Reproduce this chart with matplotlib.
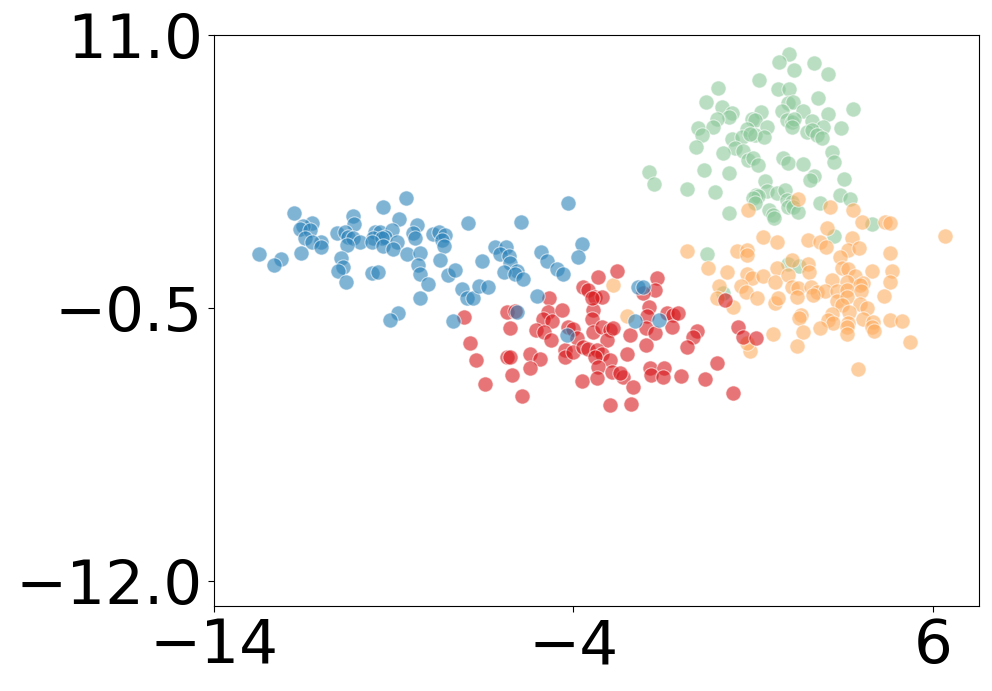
import matplotlib
matplotlib.use("Agg")
from matplotlib import pyplot as plt

# cluster 0 (blue)
blue_x = [-8.65, -9.31, -11.78, -10.13, -8.85, -10.10, -11.27, -11.52, -11.61, -11.33,
          -8.36, -10.59, -10.36, -9.52, -9.38, -9.06, -8.46, -11.47, -10.26, -10.13,
          -9.57, -9.24, -9.34, -11.02, -11.28, -9.94, -8.92, -9.61, -10.31, -11.02,
          -9.29, -9.01, -8.41, -12.74, -11.58, -12.14, -12.32, -8.64, -10.48, -8.27,
          -10.40, -10.54, -9.60, -9.45, -8.32, -8.27, -10.34, -8.27, -8.87, -9.10,
          -4.16, -6.94, -5.47, -7.90, -7.73, -7.57, -7.67, -7.60, -7.71, -8.04,
          -7.48, -7.30, -6.55, -6.18, -5.89, -6.04, -5.79, -5.77, -5.58, -5.93,
          -5.63, -5.40, -4.90, -4.75, -4.47, -4.28, -3.77, -3.87, -7.11, -6.95,
          -6.79, -6.62, -6.39, -5.01, -7.36, -5.56, -4.19, -2.20, -2.08, -2.29,
          -1.61]
blue_y = [4.14, 3.77, 3.49, 3.39, 3.25, 3.02, 3.09, 2.97, 2.81, 2.78,
          2.99, 2.67, 2.71, 2.71, 2.71, 2.78, 2.65, 2.43, 2.50, 2.43,
          2.43, 2.50, 2.43, 2.29, 2.29, 2.29, 2.29, 2.27, 2.15, 2.08,
          2.12, 1.98, 2.43, 1.77, 1.84, 1.55, 1.32, 1.76, 1.62, 1.80,
          1.24, 1.06, 0.99, 1.00, 1.31, 0.92, 0.58, -0.09, -0.70, -1.01,
          3.93, 3.07, 3.12, 2.60, 2.71, 2.57, 2.36, 2.12, 1.52, 0.50,
          0.89, 1.10, 1.49, 2.06, 2.08, 1.76, 1.69, 1.38, 1.06, 1.03,
          0.92, 0.71, 1.87, 1.49, 1.14, 0.93, 2.19, 1.63, 0.29, -0.09,
          -0.09, 0.43, 0.37, 0.02, -1.04, -0.68, -1.64, 0.40, 0.40, -1.05,
          -1.01]

# cluster 1 (red)
red_x = [-7.04, -5.86, -5.63, -5.77, -4.67, -4.70, -4.84, -4.61, -4.33, -5.04,
         -4.82, -3.73, -3.59, -3.31, -3.40, -3.45, -3.49, -3.45, -4.14, -4.01,
         -3.22, -3.49, -4.63, -3.91, -3.22, -2.98, -3.08, -4.24, -4.24, -4.01,
         -3.73, -3.59, -3.35, -3.22, -3.40, -2.98, -3.31, -2.94, -3.77, -3.35,
         -2.98, -6.88, -6.72, -5.86, -5.77, -5.21, -4.93, -5.21, -5.70, -6.46,
         -5.42, -2.78, -1.69, -1.73, -2.06, -1.89, -1.95, -1.39, -1.22, -1.08,
         -1.27, -1.98, -1.73, -2.89, -2.43, -0.56, -0.68, -0.85, -1.98, -2.52,
         0.58, 0.71, 1.08, -0.02, -1.87, -1.48, -1.85, -1.52, -1.02, -0.34,
         -2.61, -2.71, -2.34, 0.43, -2.41, 0.21]
red_y = [-0.89, -0.66, -0.63, -1.36, -0.09, -0.66, -0.94, -1.05, -0.59, -1.43,
         -1.50, 0.40, 0.26, 0.82, -0.03, -0.59, -0.94, -1.50, -1.29, -1.39,
         -0.05, -0.09, -1.85, -1.78, -1.29, -1.43, -1.85, -2.27, -2.55, -2.34,
         -2.16, -2.24, -2.27, -2.44, -2.55, -2.69, -2.97, -3.18, -3.56, -3.46,
         -4.59, -1.99, -2.69, -2.55, -2.55, -2.44, -2.66, -3.04, -3.32, -3.70,
         -4.21, 1.07, 0.78, 0.26, 0.14, -0.45, -0.84, -0.72, -0.80, -0.72,
         -1.31, -1.36, -1.54, -1.36, -1.64, -1.46, -1.74, -2.13, -2.06, -2.45,
         -1.29, -1.74, -1.75, -2.83, -3.04, -3.04, -3.32, -3.42, -3.35, -3.50,
         -3.39, -3.25, -3.84, -4.07, -4.54, -0.16]

# cluster 2 (orange)
orange_x = [-2.89, -2.52, -0.25, 0.28, 0.82, 0.96, 0.06, 0.65, 0.80, -0.02,
            0.45, 1.10, 0.91, 0.82, 0.86, 1.28, 1.65, -0.83, 0.56, 0.82,
            0.82, 1.28, 1.65, 1.61, 1.61, 1.56, 3.13, 3.78, 4.03, 4.66,
            4.80, 6.33, 3.04, 2.53, 2.86, 3.02, 3.76, 3.64, 3.95, 3.41,
            4.80, 2.07, 2.53, 2.55, 1.97, 3.46, 3.64, 4.29, 4.85, 3.83,
            3.20, 3.60, 4.06, 3.97, 4.80, 2.07, 2.25, 2.61, 2.76, 2.21,
            3.00, 3.32, 3.60, 4.00, 2.67, 1.70, 3.32, 3.60, 4.65, 3.97,
            4.16, 3.46, 3.66, 3.18, 3.09, 3.23, 2.33, 2.28, 4.06, 3.64,
            3.60, 4.34, 4.29, 4.37, 4.80, 5.13, 2.86, 2.39, 3.60, 5.36,
            2.21, 3.92, 2.25]
orange_y = [0.47, -0.84, 1.17, 1.00, 0.93, 0.75, 0.43, 0.43, 0.16, -0.09,
            -0.45, -0.09, -2.30, -1.96, 3.63, 2.48, 2.29, 1.91, 1.91, 1.94,
            1.73, 0.85, 1.17, 0.61, -0.30, -1.60, 3.77, 3.63, 3.11, 3.11,
            3.07, 2.54, 2.88, 2.36, 2.27, 2.08, 2.43, 1.94, 2.01, 1.63,
            1.84, 1.52, 1.34, 1.03, 0.89, 1.17, 1.14, 1.07, 1.07, 0.86,
            0.68, 0.58, 0.54, 0.47, 0.61, 0.40, 0.33, 0.40, 0.19, -0.03,
            0.21, 0.21, 0.26, 0.21, 0.05, -0.09, -0.21, -0.03, 0.02, -0.33,
            -0.49, -0.37, -0.66, -0.77, -1.01, -1.15, -0.80, -0.91, -0.96, -1.15,
            -1.29, -1.08, -1.29, -1.47, -1.01, -1.05, -1.36, -1.50, -1.61, -1.92,
            -2.09, -3.07, 4.08]

# cluster 3 (green)
green_x = [2.00, 1.72, 2.70, 2.14, 3.07, 1.15, 0.01, 1.70, 2.00, 2.79,
           -0.32, 0.12, 1.97, 2.11, 3.78, 0.40, 0.33, 1.22, 1.79, 2.39,
           3.07, -0.02, 0.97, 1.05, 1.93, 2.07, 2.14, 2.63, -0.53, -0.11,
           1.37, 0.82, 2.07, 2.95, 3.44, -0.43, 2.49, 2.63, 2.76, 0.40,
           0.68, 1.05, 1.31, 2.90, -0.59, 0.49, 0.15, 0.72, 0.86, 1.00,
           1.12, 1.82, 1.96, 2.39, 3.18, 3.25, -1.90, -1.75, -0.36, 0.33,
           -0.83, -0.06, 1.33, 2.70, 2.58, 3.53, 1.37, 1.65, 1.88, 1.07,
           1.14, 1.00, 1.93, 2.07, 1.97, 2.11, 2.25, 1.05, 0.33, 1.45,
           1.56, 1.59, 2.86, 3.41, 3.69, -0.29, 3.25, 4.29, 1.96, 2.27,
           0.17, 0.91]
green_y = [10.20, 9.87, 9.83, 9.52, 9.34, 9.10, 8.75, 8.71, 8.72, 8.33,
           8.19, 7.98, 8.12, 8.19, 7.87, 7.70, 7.53, 7.77, 7.81, 7.80,
           7.67, 7.46, 7.46, 7.42, 7.42, 7.35, 7.45, 7.38, 7.07, 7.11,
           7.11, 7.03, 7.11, 7.11, 7.07, 6.81, 6.92, 7.00, 6.79, 6.60,
           6.71, 6.79, 6.71, 6.65, 6.29, 6.23, 6.04, 6.12, 5.73, 5.80,
           5.52, 5.80, 5.62, 5.55, 6.08, 5.66, 5.24, 4.71, 5.31, 5.20,
           4.50, 4.40, 4.86, 5.06, 4.89, 4.92, 4.44, 4.33, 4.47, 4.26,
           4.22, 4.12, 4.05, 3.98, 3.77, 3.77, 3.55, 3.91, 3.49, 3.63,
           3.42, 3.28, 3.91, 4.26, 4.08, 1.77, 2.54, 3.04, 1.34, 1.28,
           0.12, 6.83]

x_ticks = [-14, -4, 6]
y_ticks = [11.0, -0.5, -12.0]

fig = plt.figure(figsize=(9.92, 6.91), dpi=100)
ax = fig.add_axes([0.2157, 0.1230, 0.7712, 0.8263])

groups = [(green_x, green_y, '#8cc99a'),
          (orange_x, orange_y, '#fdae61'),
          (red_x, red_y, '#d7191c'),
          (blue_x, blue_y, '#2b83ba')]
for xs, ys, c in groups:
    ax.scatter(xs, ys, s=120, c=c, alpha=0.6, edgecolors='white', linewidths=0.8)

ax.set_xlim(-14, 7.28)
ax.set_ylim(-13.05, 11.0)
ax.set_xticks(x_ticks)
ax.set_yticks(y_ticks)
# unicode minus like the default formatter
ax.set_yticklabels([('%.1f' % v).replace('-', '\u2212') for v in y_ticks])
ax.tick_params(labelsize=44, length=4.5)

fig.savefig('out.png', dpi=100)
